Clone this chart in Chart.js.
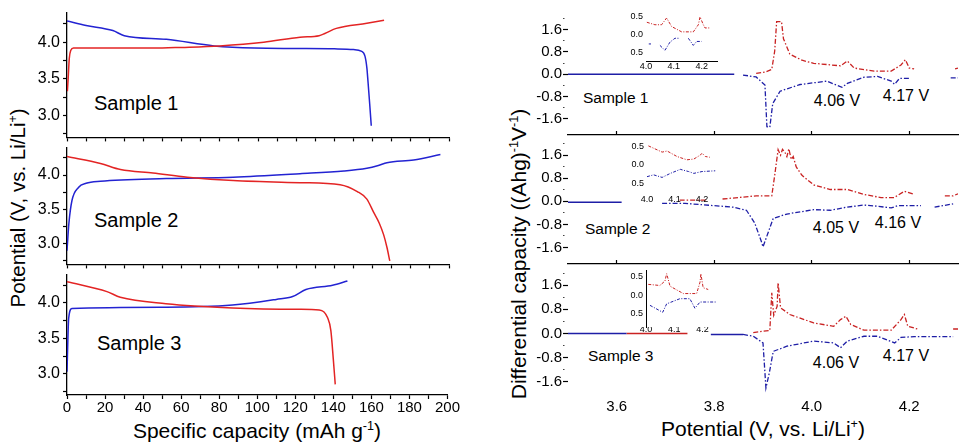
<!DOCTYPE html>
<html>
<head>
<meta charset="utf-8">
<script src="https://cdn.jsdelivr.net/npm/chart.js@4.4.1/dist/chart.umd.min.js"></script>
<style>
  html, body { margin: 0; padding: 0; background: #fff; }
  #wrap { position: relative; width: 970px; height: 446px; overflow: hidden;
          font-family: "Liberation Sans", Arial, sans-serif; color: #000; }
  canvas { position: absolute; }
  .t { position: absolute; white-space: nowrap; line-height: 1; }
  .mid { transform: translateY(-50%); }
  .ctr { transform: translate(-50%, -50%); }
  .rot { transform: translate(-50%, -50%) rotate(-90deg); }
  sup { font-size: 0.6em; vertical-align: 0.6em; line-height: 0; }
</style>
</head>
<body>
<div id="wrap">
  <div class="t mid" style="left:94px;top:103px;font-size:20px">Sample 1</div>
  <div class="t mid" style="left:94px;top:220px;font-size:20px">Sample 2</div>
  <div class="t mid" style="left:97px;top:343px;font-size:20px">Sample 3</div>
  <div class="t ctr" style="left:257px;top:430px;font-size:21px">Specific capacity (mAh g<sup>-1</sup>)</div>
  <div class="t rot" style="left:18px;top:208px;font-size:20.5px">Potential (V, vs. Li/Li<sup>+</sup>)</div>

  <div class="t mid" style="left:583px;top:98px;font-size:15.5px">Sample 1</div>
  <div class="t mid" style="left:585px;top:229px;font-size:15.5px">Sample 2</div>
  <div class="t mid" style="left:588px;top:356px;font-size:15.5px">Sample 3</div>
  <div class="t ctr" style="left:837px;top:101px;font-size:16px">4.06 V</div>
  <div class="t ctr" style="left:906px;top:96px;font-size:16px">4.17 V</div>
  <div class="t ctr" style="left:836px;top:228px;font-size:16px">4.05 V</div>
  <div class="t ctr" style="left:898px;top:223px;font-size:16px">4.16 V</div>
  <div class="t ctr" style="left:836px;top:363px;font-size:16px">4.06 V</div>
  <div class="t ctr" style="left:906px;top:356px;font-size:16px">4.17 V</div>
  <div class="t ctr" style="left:763px;top:428px;font-size:21px">Potential (V, vs. Li/Li<sup>+</sup>)</div>
  <div class="t rot" style="left:518px;top:254px;font-size:21px">Differential capacity ((Ahg)<sup>-1</sup>V<sup>-1</sup>)</div>
</div>
<script>
// ---- charge / discharge curves (capacity in mAh/g, potential in V)
const capS1Red = [0.2, 0.6, 1.2, 2, 3.4, 20, 45, 60, 80, 103, 122, 132, 135, 141, 157, 166];
const potS1Red = [3.33, 3.5, 3.78, 3.89, 3.92, 3.92, 3.92, 3.93, 3.95, 4.00, 4.07, 4.09, 4.12, 4.19, 4.26, 4.30];
const capS1Blue = [0, 10, 24, 30, 52, 77, 98, 120, 140, 150, 154, 156, 157, 157.6, 158.5, 159.3];
const potS1Blue = [4.29, 4.23, 4.16, 4.09, 4.04, 3.95, 3.92, 3.915, 3.91, 3.90, 3.88, 3.81, 3.65, 3.46, 3.15, 2.86];

const capS2Red = [0, 17.5, 28, 45, 63, 87, 122, 143, 152, 157, 160.5, 163.5, 165.8, 167.5, 169];
const potS2Red = [4.27, 4.17, 4.08, 4.03, 3.97, 3.92, 3.89, 3.86, 3.76, 3.65, 3.46, 3.30, 3.13, 2.95, 2.75];
const capS2Blue = [0, 1, 2.6, 6, 10, 17.5, 52, 87, 122, 145, 157, 163, 167.5, 181.5, 195.5];
const potS2Blue = [2.9, 3.3, 3.63, 3.82, 3.88, 3.91, 3.95, 3.97, 4.02, 4.06, 4.10, 4.14, 4.18, 4.22, 4.30];

const capS3Red = [0, 21, 28, 52, 87, 122, 132.6, 137, 138.7, 140, 141];
const potS3Red = [4.30, 4.16, 4.08, 3.99, 3.93, 3.91, 3.90, 3.79, 3.61, 3.20, 2.85];
const capS3Blue = [0, 0.9, 2.6, 52, 87, 110, 118.6, 125.6, 139.6, 147.4];
const potS3Blue = [3.03, 3.79, 3.92, 3.94, 3.97, 4.05, 4.09, 4.19, 4.25, 4.31];

// ---- differential capacity curves (potential in V, dQ/dV)
const vS1BlueBase = [3.5, 3.841];
const dqS1BlueBase = [0, 0];
const vS1Red = [3.886, 3.905, 3.918, 3.924, 3.928, 3.938, 3.942, 3.955, 3.98, 4.004, 4.059, 4.073, 4.087, 4.128, 4.163, 4.183, 4.192, 4.2, 4.21, 4.25, 4.294, 4.30];
const dqS1Red = [0.03, 0.08, 0.17, 0.83, 1.88, 1.88, 1.27, 0.72, 0.5, 0.39, 0.30, 0.47, 0.22, 0.11, 0.11, 0.33, 0.52, 0.22, 0.19, null, 0.19, 0.22];
const vS1Blue = [3.859, 3.886, 3.904, 3.908, 3.914, 3.92, 3.935, 3.976, 4.031, 4.062, 4.073, 4.107, 4.135, 4.163, 4.17, 4.18, 4.2, 4.24, 4.285, 4.3];
const dqS1Blue = [-0.03, -0.1, -0.39, -1.88, -1.9, -1.05, -0.61, -0.37, -0.25, -0.47, -0.33, -0.11, -0.08, -0.25, -0.36, -0.15, -0.15, null, -0.13, -0.13];

const vS2BlueBase = [3.5, 3.61];
const dqS2BlueBase = [-0.03, -0.03];
const vS2Red = [3.729, 3.783, 3.80, 3.817, 3.886, 3.918, 3.924, 3.931, 3.936, 3.94, 3.945, 3.949, 3.953, 3.958, 3.962, 3.968, 3.973, 3.98, 4.004, 4.038, 4.073, 4.107, 4.142, 4.169, 4.19, 4.21, 4.24, 4.273, 4.29, 4.30];
const dqS2Red = [0.04, 0.04, null, 0.08, 0.19, 0.19, 0.9, 1.79, 1.6, 1.8, 1.7, 1.55, 1.82, 1.45, 1.55, 1.2, 1.07, 0.9, 0.57, 0.41, 0.41, 0.24, 0.13, 0.13, 0.35, 0.24, null, 0.19, 0.19, 0.26];
const vS2Blue = [3.693, 3.74, 3.769, 3.838, 3.866, 3.883, 3.897, 3.9, 3.907, 3.921, 3.949, 4.004, 4.038, 4.073, 4.107, 4.135, 4.163, 4.176, 4.224, 4.24, 4.252, 4.29];
const dqS2Blue = [-0.07, -0.07, -0.11, -0.2, -0.31, -0.75, -1.41, -1.58, -1.25, -0.59, -0.44, -0.29, -0.31, -0.2, -0.13, -0.17, -0.23, -0.15, -0.15, null, -0.2, -0.09];

const vS3BlueBase = [3.5, 3.62, null, 3.793, 3.859];
const dqS3BlueBase = [0, 0, null, -0.03, -0.03];
const vS3RedBase = [3.62, 3.745];
const dqS3RedBase = [0, 0];
const vS3Red = [3.88, 3.9, 3.914, 3.918, 3.922, 3.929, 3.931, 3.936, 3.955, 4.004, 4.045, 4.059, 4.07, 4.08, 4.107, 4.163, 4.183, 4.19, 4.197, 4.217, 4.25, 4.29, 4.30];
const dqS3Red = [0.03, 0.08, 0.1, 1.35, 0.6, 0.9, 1.68, 0.85, 0.63, 0.35, 0.24, 0.46, 0.57, 0.3, 0.11, 0.11, 0.46, 0.63, 0.24, 0.15, null, 0.15, 0.15];
const vS3Blue = [3.859, 3.88, 3.9, 3.906, 3.913, 3.921, 3.949, 4.004, 4.045, 4.059, 4.073, 4.107, 4.135, 4.17, 4.183, 4.21, 4.29];
const dqS3Blue = [-0.03, -0.09, -0.31, -1.8, -1.3, -0.59, -0.42, -0.25, -0.31, -0.47, -0.25, -0.09, -0.09, -0.31, -0.13, -0.1, -0.1];

// ---- insets
const vIn1Red = [4.003, 4.032, 4.056, 4.074, 4.092, 4.128, 4.17, 4.188, 4.194, 4.206, 4.212, 4.23];
const dqIn1Red = [0.35, 0.28, 0.28, 0.47, 0.23, 0.08, 0.08, 0.28, 0.5, 0.28, 0.19, 0.19];
const vIn1Blue = [4.01, 4.018, 4.03, 4.05, 4.068, 4.086, 4.104, 4.122, 4.135, 4.152, 4.17, 4.182, 4.2];
const dqIn1Blue = [-0.26, -0.26, null, -0.3, -0.44, -0.21, -0.1, -0.1, null, -0.1, -0.3, -0.19, -0.19];
const vIn2Red = [4.005, 4.055, 4.073, 4.109, 4.145, 4.17, 4.194, 4.2, 4.212, 4.228];
const dqIn2Red = [0.52, 0.35, 0.38, 0.23, 0.14, 0.16, 0.27, 0.32, 0.23, 0.21];
const vIn2Blue = [4.0, 4.024, 4.055, 4.085, 4.121, 4.151, 4.17, 4.2, 4.248];
const dqIn2Blue = [-0.32, -0.27, -0.34, -0.23, -0.12, -0.18, -0.23, -0.18, -0.16];
const vIn3Red = [4.008, 4.049, 4.067, 4.073, 4.085, 4.132, 4.179, 4.191, 4.194, 4.202, 4.22];
const dqIn3Red = [0.3, 0.27, 0.39, 0.59, 0.25, 0.05, 0.05, 0.36, 0.59, 0.21, 0.16];
const vIn3Blue = [4.014, 4.059, 4.073, 4.12, 4.155, 4.173, 4.191, 4.255];
const dqIn3Blue = [-0.27, -0.46, -0.23, -0.09, -0.09, -0.35, -0.18, -0.18];

// ---- ticks
const capMajorTicks = [0, 20, 40, 60, 80, 100, 120, 140, 160, 180, 200];
const capMinorTicks = [10, 30, 50, 70, 90, 110, 130, 150, 170, 190];
const potMajorTicks = [3.0, 3.5, 4.0];
const potMinorTicks = [2.75, 3.25, 3.75, 4.25];
const dqMajorTicks = [-1.6, -0.8, 0.0, 0.8, 1.6];
const dqMinorTicks = [-1.2, -0.4, 0.4, 1.2, 2.0];
const vMajorTicks = [3.6, 3.8, 4.0, 4.2];
const insetVTicks = [4.0, 4.1, 4.2];
const insetDqTicks = [-0.5, 0.0, 0.5];

const RED_L = '#e32424', BLUE_L = '#2323d2';
const RED_R = '#c92222', BLUE_R = '#1e1ea6';
const DASH = [5, 2, 1.5, 2];
const DASH_IN = [3, 1.5, 1, 1.5];

Chart.defaults.font.family = '"Liberation Sans", Arial, sans-serif';
Chart.defaults.color = '#000';

function addCanvas(left, top, w, h) {
  const c = document.createElement('canvas');
  c.width = w; c.height = h;
  c.style.left = left + 'px'; c.style.top = top + 'px';
  c.style.width = w + 'px'; c.style.height = h + 'px';
  document.getElementById('wrap').appendChild(c);
  return c;
}

function isIn(list, v) { return list.some(m => Math.abs(m - v) < 1e-9); }
function tickList(major, minor) {
  return major.concat(minor).sort((a, b) => a - b).map(v => ({ value: v }));
}
function line(xs, ys, color, dash, width) {
  return {
    data: xs.map((x, i) => ({ x: x, y: ys[i] })),
    borderColor: color, borderWidth: width || 1.5, borderDash: dash || [],
    pointRadius: 0, tension: 0, fill: false, spanGaps: false
  };
}
function smoothLine(xs, ys, color) {
  const ds = line(xs, ys, color);
  ds.cubicInterpolationMode = 'monotone';
  return ds;
}
function baseOptions(padding) {
  return {
    responsive: false, animation: false, events: [],
    layout: { padding: padding, autoPadding: false },
    plugins: { legend: { display: false }, tooltip: { enabled: false } }
  };
}

// left panel: one canvas per sample
function capChart(top, height, padTop, xH, showLabels, datasets) {
  const c = addCanvas(0, top, 460, height);
  const opts = baseOptions({ top: padTop, right: 11, bottom: 0, left: 0 });
  opts.scales = {
    x: {
      type: 'linear', min: 0, max: 200,
      border: { display: true, color: '#000', width: 1.3 },
      grid: { display: true, drawOnChartArea: false, drawTicks: true, tickLength: 4, tickColor: '#000', tickWidth: 1.2 },
      ticks: { display: showLabels, padding: 0, font: { size: 15 }, maxRotation: 0, autoSkip: false,
               callback: v => isIn(capMajorTicks, v) ? String(v) : '' },
      afterBuildTicks: s => { s.ticks = tickList(capMajorTicks, capMinorTicks); },
      afterFit: s => { s.height = xH; }
    },
    y: {
      type: 'linear', min: 2.7, max: 4.4,
      border: { display: true, color: '#000', width: 1.3 },
      grid: { display: true, drawOnChartArea: false, drawTicks: true, tickLength: 4, tickColor: '#000', tickWidth: 1.2 },
      ticks: { padding: 3, font: { size: 16 }, autoSkip: false,
               callback: v => isIn(potMajorTicks, v) ? v.toFixed(1) : '' },
      afterBuildTicks: s => { s.ticks = tickList(potMajorTicks, potMinorTicks); },
      afterFit: s => { s.width = 67; }
    }
  };
  new Chart(c, { type: 'line', data: { datasets: datasets }, options: opts });
}

// right panel: one canvas per sample
function cvChart(top, height, padBottom, topH, bottomH, datasets) {
  const c = addCanvas(480, top, 490, height);
  const opts = baseOptions({ top: topH > 0 ? 0 : 5, right: 12, bottom: padBottom, left: 0 });
  opts.scales = {
    x: {
      type: 'linear', min: 3.5, max: 4.3, display: bottomH > 0,
      border: { display: false },
      grid: { display: false, drawTicks: false },
      ticks: { padding: 4, font: { size: 15 }, maxRotation: 0, autoSkip: false,
               callback: v => isIn(vMajorTicks, v) ? v.toFixed(1) : '' },
      afterBuildTicks: s => { s.ticks = tickList(vMajorTicks, []); },
      afterFit: s => { s.height = bottomH; }
    },
    y: {
      type: 'linear', min: -2, max: 2.3,
      border: { display: false },
      grid: { display: true, drawOnChartArea: false, drawTicks: true, tickLength: 5, tickWidth: 1.2,
              tickColor: ctx => isIn(dqMajorTicks, ctx.tick.value) ? '#000' : '#444',
              tickBorderDash: ctx => isIn(dqMajorTicks, ctx.tick.value) ? [] : [1.5, 10] },
      ticks: { padding: 1, font: { size: 15 }, autoSkip: false,
               callback: v => isIn(dqMajorTicks, v) ? v.toFixed(1) : '' },
      afterBuildTicks: s => { s.ticks = tickList(dqMajorTicks, dqMinorTicks); },
      afterFit: s => { s.width = 88; }
    }
  };
  if (topH > 0) {
    opts.scales.xt = {
      type: 'linear', axis: 'x', position: 'top', min: 3.5, max: 4.3,
      border: { display: true, color: '#000', width: 1.3 },
      grid: { display: true, drawOnChartArea: false, drawTicks: true, tickLength: 4, tickColor: '#000', tickWidth: 1.2 },
      ticks: { display: false, autoSkip: false },
      afterBuildTicks: s => { s.ticks = tickList(vMajorTicks, []); },
      afterFit: s => { s.height = topH; }
    };
  }
  new Chart(c, { type: 'line', data: { datasets: datasets }, options: opts });
}

// small insets
function insetChart(left, top, padTop, xH, xPad, yMin, yMax, vMax, xLine, yLine, datasets) {
  const c = addCanvas(left, top, 120, 80);
  const opts = baseOptions({ top: padTop, right: 9, bottom: 0, left: 0 });
  opts.scales = {
    x: {
      type: 'linear', min: 4.0, max: vMax,
      border: { display: xLine, color: '#000', width: 1 },
      grid: { display: false, drawTicks: false },
      ticks: { padding: xPad, font: { size: 9 }, maxRotation: 0, autoSkip: false,
               callback: v => v.toFixed(1) },
      afterBuildTicks: s => { s.ticks = tickList(insetVTicks, []); },
      afterFit: s => { s.height = xH; }
    },
    y: {
      type: 'linear', min: yMin, max: yMax,
      border: { display: yLine, color: '#000', width: 1 },
      grid: { display: false, drawTicks: false },
      ticks: { padding: 3, font: { size: 9 }, autoSkip: false, callback: v => Math.abs(v).toFixed(1) },
      afterBuildTicks: s => { s.ticks = tickList(insetDqTicks, []); },
      afterFit: s => { s.width = 40; }
    }
  };
  new Chart(c, { type: 'line', data: { datasets: datasets }, options: opts });
}

capChart(0, 150, 13, 10, false, [
  smoothLine(capS1Red, potS1Red, RED_L), smoothLine(capS1Blue, potS1Blue, BLUE_L)
]);
capChart(135, 142, 5, 10, false, [
  smoothLine(capS2Red, potS2Red, RED_L), smoothLine(capS2Blue, potS2Blue, BLUE_L)
]);
capChart(262, 184, 5, 51, true, [
  smoothLine(capS3Red, potS3Red, RED_L), smoothLine(capS3Blue, potS3Blue, BLUE_L)
]);

cvChart(0, 140, 5, 0, 0, [
  line(vS1BlueBase, dqS1BlueBase, BLUE_R, [], 1.4),
  line(vS1Red, dqS1Red, RED_R, DASH, 1.3),
  line(vS1Blue, dqS1Blue, BLUE_R, DASH, 1.3)
]);
cvChart(115, 154, 5, 20, 0, [
  line(vS2BlueBase, dqS2BlueBase, BLUE_R, [], 1.4),
  line(vS2Red, dqS2Red, RED_R, DASH, 1.3),
  line(vS2Blue, dqS2Blue, BLUE_R, DASH, 1.3)
]);
cvChart(244, 202, 0, 20, 52, [
  line(vS3BlueBase, dqS3BlueBase, BLUE_R, [], 1.4),
  line(vS3RedBase, dqS3RedBase, RED_R, [], 1.4),
  line(vS3Red, dqS3Red, RED_R, DASH, 1.3),
  line(vS3Blue, dqS3Blue, BLUE_R, DASH, 1.3)
]);

insetChart(606, 0, 6, 19, 0, -0.74, 0.74, 4.255, true, false, [
  line(vIn1Red, dqIn1Red, RED_R, DASH_IN, 1), line(vIn1Blue, dqIn1Blue, BLUE_R, DASH_IN, 1)
]);
insetChart(607, 130, 10, 17, 1, -0.765, 0.68, 4.258, false, false, [
  line(vIn2Red, dqIn2Red, RED_R, DASH_IN, 1), line(vIn2Blue, dqIn2Blue, BLUE_R, DASH_IN, 1)
]);
insetChart(606, 262, 8, 15, -3, -0.86, 0.68, 4.251, false, true, [
  line(vIn3Red, dqIn3Red, RED_R, DASH_IN, 1), line(vIn3Blue, dqIn3Blue, BLUE_R, DASH_IN, 1)
]);
</script>
</body>
</html>
